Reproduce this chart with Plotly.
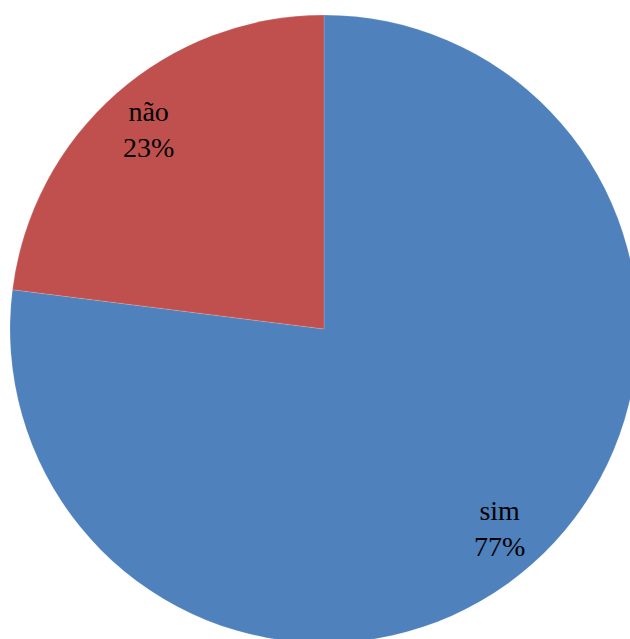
import math
import plotly.graph_objects as go

labels = ["sim", "não"]
values = [77, 23]
colors = ["#4F81BD", "#C0504D"]

W, H = 648, 658
cx, cy, r = 324, 329, 314  # pixel geometry of the pie (from top-left)

fig = go.Figure(go.Pie(
    labels=labels, values=values, sort=False, direction="clockwise", rotation=0,
    marker=dict(colors=colors, line=dict(color="rgba(255,255,255,0.3)", width=0.5)),
    textinfo="none", hoverinfo="label+percent", showlegend=False,
    domain=dict(x=[(cx - r) / W, (cx + r) / W], y=[(H - cy - r) / H, (H - cy + r) / H]),
))

total = sum(values)
cum = 0
for lab, v in zip(labels, values):
    mid = (cum + v / 2) / total * 2 * math.pi
    cum += v
    px = cx + 0.845 * r * math.sin(mid)
    py = cy - 0.845 * r * math.cos(mid)
    fig.add_annotation(
        x=px / W, y=1 - py / H, xref="paper", yref="paper",
        text=f"{lab}<br>{round(v / total * 100)}%", showarrow=False,
        font=dict(family="Liberation Serif, Times New Roman, serif", size=28, color="black"),
        xanchor="center", yanchor="middle",
    )

fig.update_layout(width=W, height=H, margin=dict(l=0, r=0, t=0, b=0),
                  paper_bgcolor="white", plot_bgcolor="white")

fig.write_html("out.html", config={"displayModeBar": False},
               post_script="document.documentElement.style.overflow='hidden';document.body.style.overflow='hidden';document.body.style.margin='0';")
